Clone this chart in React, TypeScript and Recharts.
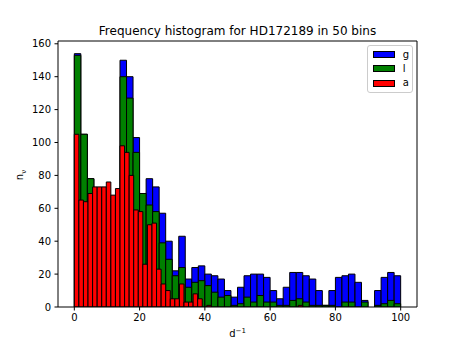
import { Bar, BarChart, Legend, XAxis, YAxis } from "recharts";

const TITLE = "Frequency histogram for HD172189 in 50 bins";

// bin centres: g and l share 50 bins over 0–100, a has its own 50 bins over 0–70
const GL_CENTRES = [
  1, 3, 5, 7, 9, 11, 13, 15, 17, 19, 21, 23, 25, 27, 29, 31, 33, 35, 37, 39, 41, 43, 45, 47, 49,
  51, 53, 55, 57, 59, 61, 63, 65, 67, 69, 71, 73, 75, 77, 79, 81, 83, 85, 87, 89, 91, 93, 95, 97, 99,
];
const A_CENTRES = [
  0.7, 2.1, 3.5, 4.9, 6.3, 7.7, 9.1, 10.5, 11.9, 13.3, 14.7, 16.1, 17.5, 18.9, 20.3, 21.7, 23.1,
  24.5, 25.9, 27.3, 28.7, 30.1, 31.5, 32.9, 34.3, 35.7, 37.1, 38.5, 39.9, 41.3, 42.7, 44.1, 45.5,
  46.9, 48.3, 49.7, 51.1, 52.5, 53.9, 55.3, 56.7, 58.1, 59.5, 60.9, 62.3, 63.7, 65.1, 66.5, 67.9,
  69.3,
];
const GL_BIN = 2;
const A_BIN = 1.4;

const G_COUNTS = [
  154, 105, 78, 70, 70, 64, 64, 150, 140, 103, 69, 78, 73, 57, 40, 22, 43, 17, 24, 25, 20, 19, 17,
  10, 6, 12, 19, 20, 20, 18, 10, 5, 12, 21, 21, 19, 17, 10, 1, 10, 18, 19, 20, 15, 4, 0, 10, 18, 21,
  19,
];
const L_COUNTS = [
  153, 105, 78, 68, 68, 62, 62, 140, 127, 94, 69, 62, 58, 39, 29, 19, 24, 12, 15, 16, 13, 9, 6, 7,
  1, 2, 6, 3, 7, 3, 3, 1, 1, 4, 5, 3, 1, 1, 1, 1, 0, 3, 3, 0, 3, 0, 1, 2, 4, 2,
];
const A_COUNTS = [
  105, 65, 64, 69, 73, 73, 73, 76, 68, 72, 98, 94, 80, 59, 58, 26, 50, 51, 23, 14, 10, 5, 5, 14, 3,
  3, 8, 5, 0, 1, 0, 0, 0, 0, 0, 0, 0, 0, 0, 0, 0, 0, 0, 0, 0, 0, 0, 0, 0, 1,
];

const X_TICKS = [0, 20, 40, 60, 80, 100];
const Y_TICKS = [0, 20, 40, 60, 80, 100, 120, 140, 160];

const SERIES_NAMES = ["g", "l", "a"];
const SERIES_COLOURS = ["#0000ff", "#008000", "#ff0000"];

const W = 463;
const H = 347;
const MARGIN = { top: 41, right: 46, bottom: 10, left: 8 };
// the front layer carries 1px top/right frame axes, so its margins shrink by 1
const FRONT_MARGIN = { top: 40, right: 45, bottom: 10, left: 8 };
const Y_AXIS_W = 50;
const X_AXIS_H = 30;
const X_DOMAIN: [number, number] = [-5, 105];
const Y_DOMAIN: [number, number] = [0, 161.7];
const PLOT_LEFT = MARGIN.left + Y_AXIS_W;
const PLOT_W = W - MARGIN.right - PLOT_LEFT;
const PX_PER_UNIT = PLOT_W / (X_DOMAIN[1] - X_DOMAIN[0]);
const FONT = "'DejaVu Sans', sans-serif";

type Row = { x: number; n: number };

const gRows: Row[] = GL_CENTRES.map((x, i) => ({ x, n: G_COUNTS[i] }));
const lRows: Row[] = GL_CENTRES.map((x, i) => ({ x, n: L_COUNTS[i] }));
const aRows: Row[] = A_CENTRES.map((x, i) => ({ x, n: A_COUNTS[i] }));

function xLabel() {
  return (
    <text x={PLOT_LEFT + PLOT_W / 2} y={337} textAnchor="middle" fontSize={10} fill="#000">
      d
      <tspan dy={-4} fontSize={7}>
        −1
      </tspan>
    </text>
  );
}

function yLabel() {
  const cx = 23.3;
  const cy = 175;
  return (
    <text
      x={cx}
      y={cy}
      transform={`rotate(-90, ${cx}, ${cy})`}
      textAnchor="middle"
      fontSize={10}
      fill="#000"
    >
      n
      <tspan dy={3} fontSize={7}>
        ν
      </tspan>
    </text>
  );
}

function LegendBox() {
  return (
    <div
      style={{
        width: 46,
        height: 48,
        boxSizing: "border-box",
        border: "1px solid #cccccc",
        borderRadius: 3,
        background: "rgba(255,255,255,0.8)",
        paddingTop: 1.5,
        fontFamily: FONT,
        fontSize: 10,
        color: "#000",
      }}
    >
      {SERIES_NAMES.map((name, i) => (
        <div
          key={name}
          style={{ display: "flex", alignItems: "center", height: 14.3, paddingLeft: 4.7 }}
        >
          <span
            style={{
              display: "inline-block",
              width: 22,
              height: 7,
              boxSizing: "border-box",
              border: "1px solid #000",
              background: SERIES_COLOURS[i],
              marginRight: 8,
            }}
          />
          <span style={{ lineHeight: "10px" }}>{name}</span>
        </div>
      ))}
    </div>
  );
}

interface LayerProps {
  rows: Row[];
  name: string;
  colour: string;
  binWidth: number;
  front?: boolean;
}

function Layer({ rows, name, colour, binWidth, front = false }: LayerProps) {
  const axisStyle = front
    ? {
        tick: { fill: "#000", fontSize: 10 },
        tickLine: { stroke: "#000" },
        axisLine: { stroke: "#000" },
      }
    : { tick: false, tickLine: false, axisLine: false };

  return (
    <div style={{ position: "absolute", left: 0, top: 0 }}>
      <BarChart
        width={W}
        height={H}
        data={rows}
        margin={front ? FRONT_MARGIN : MARGIN}
        barCategoryGap={0}
        barGap={0}
      >
        <XAxis
          dataKey="x"
          type="number"
          domain={X_DOMAIN}
          allowDataOverflow
          ticks={X_TICKS}
          interval={0}
          height={X_AXIS_H}
          tickSize={3.5}
          tickMargin={3.5}
          label={front ? xLabel : undefined}
          {...axisStyle}
        />
        <YAxis
          type="number"
          domain={Y_DOMAIN}
          allowDataOverflow
          ticks={Y_TICKS}
          interval={0}
          width={Y_AXIS_W}
          tickSize={3.5}
          tickMargin={3.5}
          label={front ? yLabel : undefined}
          {...axisStyle}
        />
        {front && (
          <XAxis
            xAxisId="top"
            orientation="top"
            dataKey="x"
            type="number"
            domain={X_DOMAIN}
            allowDataOverflow
            height={1}
            tick={false}
            tickLine={false}
            axisLine={{ stroke: "#000" }}
          />
        )}
        {front && (
          <YAxis
            yAxisId="right"
            orientation="right"
            type="number"
            domain={Y_DOMAIN}
            allowDataOverflow
            width={1}
            tick={false}
            tickLine={false}
            axisLine={{ stroke: "#000" }}
          />
        )}
        <Bar
          dataKey="n"
          name={name}
          fill={colour}
          stroke="#000"
          strokeWidth={1}
          barSize={binWidth * PX_PER_UNIT - 0.02}
          isAnimationActive={false}
        />
        {front && (
          <Legend
            layout="vertical"
            align="center"
            verticalAlign="middle"
            wrapperStyle={{ left: 367, top: 45 }}
            content={() => <LegendBox />}
          />
        )}
      </BarChart>
    </div>
  );
}

export default function App() {
  return (
    <div
      style={{
        position: "absolute",
        left: 0,
        top: 0,
        width: W,
        height: H,
        background: "#fff",
        fontFamily: FONT,
      }}
    >
      <div
        style={{
          position: "absolute",
          left: PLOT_LEFT,
          top: 24,
          width: PLOT_W,
          textAlign: "center",
          fontSize: 12,
          lineHeight: "14px",
          color: "#000",
        }}
      >
        {TITLE}
      </div>
      <Layer rows={gRows} name={SERIES_NAMES[0]} colour={SERIES_COLOURS[0]} binWidth={GL_BIN} />
      <Layer rows={lRows} name={SERIES_NAMES[1]} colour={SERIES_COLOURS[1]} binWidth={GL_BIN} />
      <Layer
        rows={aRows}
        name={SERIES_NAMES[2]}
        colour={SERIES_COLOURS[2]}
        binWidth={A_BIN}
        front
      />
    </div>
  );
}
